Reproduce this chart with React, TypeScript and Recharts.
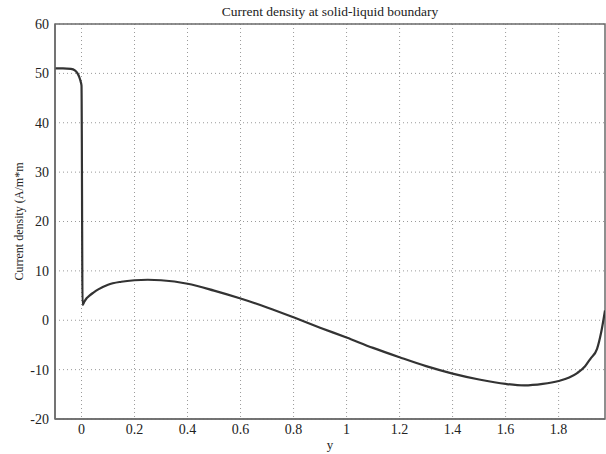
import { LineChart, Line, XAxis, YAxis, CartesianGrid, ReferenceArea } from 'recharts';

// position along the boundary (y) and current density
const yPos = [
  -0.1, -0.07, -0.04, -0.025, -0.015, -0.008, -0.003, 0, 0.004, 0.01, 0.02, 0.03,
  0.045, 0.065, 0.1, 0.15, 0.2, 0.25, 0.3, 0.4, 0.5, 0.6, 0.7, 0.8, 0.9, 1.0, 1.1,
  1.2, 1.3, 1.4, 1.5, 1.6, 1.67, 1.74, 1.8, 1.84, 1.87, 1.9, 1.92, 1.945, 1.96, 1.975,
];
const density = [
  51.0, 51.0, 50.9, 50.6, 50.0, 49.2, 48.3, 47.5, 3.1, 3.7, 4.5, 5.0,
  5.6, 6.3, 7.2, 7.8, 8.1, 8.2, 8.1, 7.4, 6.0, 4.4, 2.6, 0.6, -1.5, -3.5, -5.6,
  -7.5, -9.3, -10.8, -12.0, -12.9, -13.2, -12.9, -12.3, -11.6, -10.7, -9.3, -7.8, -5.8, -2.6, 2.0,
];

const xTicks = [0, 0.2, 0.4, 0.6, 0.8, 1, 1.2, 1.4, 1.6, 1.8];
const yTicks = [-20, -10, 0, 10, 20, 30, 40, 50, 60];
const xDomain = [-0.1, 1.975];
const yDomain = [-20, 60];

const data = yPos.map((x, i) => ({ x, j: density[i] }));

const serif = '"Liberation Serif", "DejaVu Serif", serif';
const tickStyle = { fontSize: 14, fontFamily: serif, fill: '#222' };

function YLabel(props: any) {
  const { viewBox } = props;
  const cx = 19;
  const cy = viewBox.y + viewBox.height / 2;
  return (
    <text
      x={cx}
      y={cy}
      transform={`rotate(-90, ${cx}, ${cy})`}
      textAnchor="middle"
      dominantBaseline="central"
      fontSize={12}
      fontFamily={serif}
      fill="#222"
    >
      Current density (A/m*m
    </text>
  );
}

export default function App() {
  return (
    <div style={{ position: 'absolute', left: 0, top: 0, width: 606, height: 454, background: '#fff' }}>
      <div
        style={{
          position: 'absolute',
          left: 55,
          width: 550,
          top: 4,
          textAlign: 'center',
          fontFamily: serif,
          fontSize: 13.5,
          color: '#222',
        }}
      >
        Current density at solid-liquid boundary
      </div>
      <LineChart width={606} height={454} data={data} margin={{ top: 24, right: 1, bottom: 0, left: 0 }}>
        <CartesianGrid stroke="#9a9a9a" strokeDasharray="1 3" verticalValues={xTicks} horizontalValues={yTicks} />
        <XAxis
          dataKey="x"
          type="number"
          domain={xDomain}
          ticks={xTicks}
          allowDataOverflow
          height={35}
          tickLine={false}
          tickSize={3}
          tickMargin={2}
          tick={tickStyle}
          axisLine={{ stroke: '#6b6b6b', strokeWidth: 1.5 }}
          label={{ value: 'y', position: 'insideBottom', offset: 5, style: { fontSize: 13, fontFamily: serif, fill: '#222' } }}
        />
        <YAxis
          type="number"
          domain={yDomain}
          ticks={yTicks}
          allowDataOverflow
          width={55}
          tickLine={false}
          tickSize={3}
          tickMargin={3}
          tick={tickStyle}
          axisLine={{ stroke: '#6b6b6b', strokeWidth: 1.5 }}
          label={<YLabel />}
        />
        <ReferenceArea
          x1={xDomain[0]}
          x2={xDomain[1]}
          y1={yDomain[0]}
          y2={yDomain[1]}
          fill="none"
          stroke="#6b6b6b"
          strokeWidth={1.5}
        />
        <Line
          type="monotone"
          dataKey="j"
          stroke="#333"
          strokeWidth={2.2}
          dot={false}
          isAnimationActive={false}
        />
      </LineChart>
    </div>
  );
}
